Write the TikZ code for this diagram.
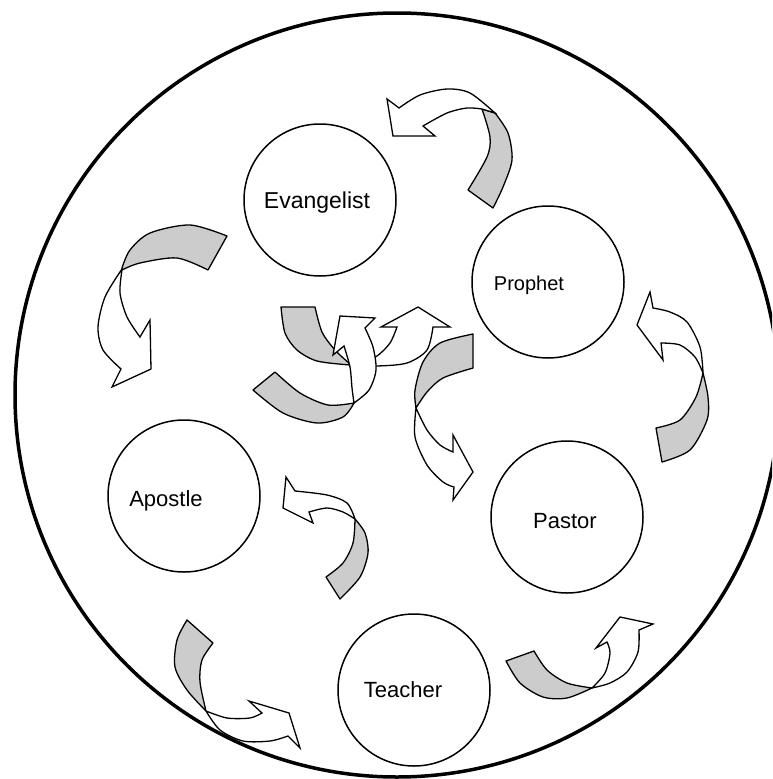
\documentclass[tikz,border=0pt]{standalone}
\usepackage{fontspec}
\setmainfont{Liberation Sans}
\usepackage{xcolor}
\usepackage{tikz}
\definecolor{bandgray}{RGB}{204,204,204}
\tikzset{
  office/.style={circle,draw,line width=1.5pt,minimum size=152pt,inner sep=0pt},
  officename/.style={anchor=base,inner sep=0pt,font=\fontsize{22}{26}\selectfont},
  backband/.style={draw,fill=bandgray,line width=1.3pt,line join=round},
  frontband/.style={draw,fill=white,line width=1.3pt,line join=miter}
}
\begin{document}
\begin{tikzpicture}[x=1pt,y=-1pt]
\useasboundingbox (0,0) rectangle (772,779);
\clip (0,0) rectangle (772,779);
\draw[line width=3.5pt] (397,395) circle (382);

\node[office] (evangelist) at (320,200) {};
\node[office] (prophet) at (548,282) {};
\node[office] (apostle) at (184,496) {};
\node[office] (pastor) at (567,517) {};
\node[office] (teacher) at (414,690) {};
\node[officename,font=\fontsize{23}{27}\selectfont] (evangelist-name) at (317,208) {Evangelist};
\node[officename,font=\fontsize{20}{24}\selectfont] (prophet-name) at (529,290) {Prophet};
\node[officename] (apostle-name) at (166,506) {Apostle};
\node[officename] (pastor-name) at (565,528) {Pastor};
\node[officename] (teacher-name) at (403,697) {Teacher};

% top, towards the evangelist
\filldraw[backband] plot[smooth] coordinates {(482,109) (490,137) (487,157) (468,190)} -- plot[smooth] coordinates {(493,208) (503,187) (512,160) (508,133) (495,113)} -- cycle;
\filldraw[frontband] plot[smooth] coordinates {(482,109) (467,108) (447,113) (423,126)} -- (435,136) -- (393,136) -- (387,99) -- (399,108) -- plot[smooth] coordinates {(399,108) (420,95) (447,89) (470,93) (495,113)} -- cycle;

% left, towards the apostle
\filldraw[backband] plot[smooth] coordinates {(227,236) (190,225) (150,233) (130,250) (122,268)} -- plot[smooth] coordinates {(122,270) (140,263) (177,258) (208,270)} -- cycle;
\filldraw[frontband] plot[smooth] coordinates {(122,269) (105,297) (98,327) (103,350) (121,369)} -- (112,387) -- (151,369) -- (150,320) -- (140,337) -- plot[smooth] coordinates {(140,337) (127,317) (120,293) (122,270)} -- cycle;

% centre
\filldraw[backband] plot[smooth] coordinates {(281,307) (285,333) (297,350) (317,361) (350,365)} -- plot[smooth] coordinates {(350,364) (335,350) (322,332) (315,307)} -- cycle;
\filldraw[frontband] plot[smooth] coordinates {(350,365) (377,366) (407,363) (427,350) (433,327)} -- (450,327) -- (418,307) -- (381,327) -- (397,327) -- plot[smooth] coordinates {(397,327) (390,343) (377,356) (360,363) (350,365)} -- cycle;
\filldraw[backband] plot[smooth] coordinates {(253,390) (283,413) (317,423) (343,417) (354,403)} -- plot[smooth] coordinates {(354,403) (328,405) (300,393) (275,372)} -- cycle;
\filldraw[frontband] plot[smooth] coordinates {(354,403) (369,390) (376,370) (373,347) (365,328)} -- (375,318) -- (340,316) -- (333,355) -- (344,346) -- plot[smooth] coordinates {(344,346) (350,367) (352,388) (354,403)} -- cycle;

% towards the pastor
\filldraw[backband] plot[smooth] coordinates {(473,334) (440,343) (423,362) (415,390) (416,408)} -- plot[smooth] coordinates {(416,408) (427,392) (443,378) (473,368)} -- cycle;
\filldraw[frontband] plot[smooth] coordinates {(416,408) (415,437) (427,465) (443,482) (454,487)} -- (453,500) -- (473,472) -- (453,435) -- (453,452) -- plot[smooth] coordinates {(453,452) (440,445) (427,430) (416,408)} -- cycle;

% right, towards the prophet
\filldraw[backband] plot[smooth] coordinates {(656,428) (680,420) (696,397) (703,373)} -- plot[smooth] coordinates {(703,373) (708,397) (707,420) (690,450) (662,462)} -- cycle;
\filldraw[frontband] plot[smooth] coordinates {(703,373) (700,347) (687,322) (670,312) (653,308)} -- (650,292) -- (637,325) -- (663,360) -- (661,343) -- plot[smooth] coordinates {(661,343) (680,345) (695,357) (703,373)} -- cycle;

% towards the apostle
\filldraw[backband] plot[smooth] coordinates {(326,577) (343,563) (353,543) (355,519)} -- plot[smooth] coordinates {(355,519) (365,533) (368,553) (360,577) (340,599)} -- cycle;
\filldraw[frontband] plot[smooth] coordinates {(355,519) (347,503) (327,495) (295,491)} -- (286,477) -- (283,508) -- (313,523) -- (309,512) -- plot[smooth] coordinates {(309,512) (327,508) (343,512) (355,519)} -- cycle;

% bottom left
\filldraw[backband] plot[smooth] coordinates {(187,620) (177,640) (175,667) (187,690) (206,711)} -- plot[smooth] coordinates {(206,711) (200,682) (202,660) (213,643)} -- cycle;
\filldraw[frontband] plot[smooth] coordinates {(206,711) (227,718) (250,718) (262,713)} -- (249,701) -- (289,713) -- (300,748) -- (288,736) -- plot[smooth] coordinates {(288,736) (270,741) (243,741) (220,730) (206,711)} -- cycle;

% bottom right
\filldraw[backband] plot[smooth] coordinates {(506,661) (520,683) (543,697) (567,698) (592,688)} -- plot[smooth] coordinates {(592,688) (567,683) (547,670) (534,651)} -- cycle;
\filldraw[frontband] plot[smooth] coordinates {(592,688) (605,673) (610,653) (607,642)} -- (596,648) -- (620,617) -- (653,624) -- (639,630) -- plot[smooth] coordinates {(639,630) (638,652) (627,672) (610,683) (592,688)} -- cycle;
\end{tikzpicture}
\end{document}
